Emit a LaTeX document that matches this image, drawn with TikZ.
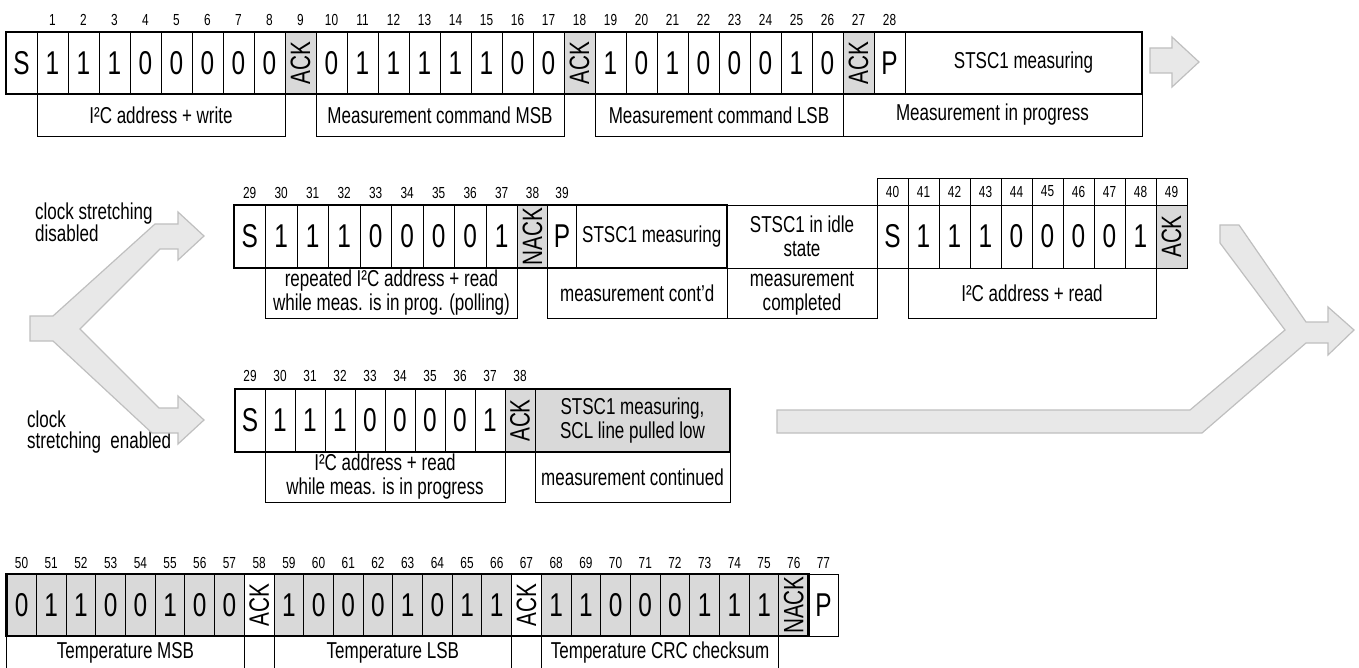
\documentclass[tikz,border=0pt]{standalone}
\usepackage{fontspec}
\setmainfont[FakeStretch=0.74]{Liberation Sans}
\newcommand\ACKtxt{\rotatebox{90}{\fontsize{28}{28}\selectfont ACK}}
\newcommand\NACKtxt{\rotatebox{90}{\fontsize{28}{28}\selectfont NACK}}
\begin{document}
\begin{tikzpicture}[x=1pt, y=-1pt,
  cell/.style={draw, line width=0.9pt, inner sep=0pt, outer sep=0pt, anchor=north west, minimum height=62pt, font=\fontsize{33}{33}\selectfont},
  wtxt/.style={align=center, font=\fontsize{23}{24}\selectfont},
  lab/.style={draw, line width=0.9pt, inner sep=0pt, outer sep=0pt, anchor=north west, align=center, font=\fontsize{23}{24}\selectfont},
  num/.style={inner sep=0pt, font=\fontsize{16}{16}\selectfont},
  txt/.style={inner sep=0pt, anchor=west, align=left, font=\fontsize{23}{21}\selectfont},
  rowframe/.style={line width=2.6pt},
  bigarrow/.style={draw=black!25, fill=black!9, line width=1.2pt}]

\useasboundingbox (0,0) rectangle (1359,668);

\node[cell, minimum width=31pt] (s1) at (6,32) {S};
\foreach \b/\f [count=\i] in {1/white,1/white,1/white,0/white,0/white,0/white,0/white,0/white,\ACKtxt/black!15,0/white,1/white,1/white,1/white,1/white,1/white,0/white,0/white,\ACKtxt/black!15,1/white,0/white,1/white,0/white,0/white,0/white,1/white,0/white,\ACKtxt/black!15,P/white}{
  \node[cell, minimum width=31pt, fill=\f] (a\i) at ({37+31*(\i-1)},32) {\b};
  \node[num] (na\i) at ({52.5+31*(\i-1)},20) {\i};
}
\node[cell, wtxt, minimum width=237pt] (m1) at (905,32) {STSC1 measuring};
\node[lab, minimum width=248pt, minimum height=42pt] (l1) at (37,94) {I²C address + write};
\node[lab, minimum width=248pt, minimum height=42pt] (l2) at (316,94) {Measurement command MSB};
\node[lab, minimum width=248pt, minimum height=42pt] (l3) at (595,94) {Measurement command LSB};
\node[lab, minimum width=299pt, minimum height=42pt] (l4) at (843,94) {Measurement in progress};
\draw[rowframe] (s1.north west) rectangle (m1.south east);
\draw[bigarrow] (1150,48) -- (1172,48) -- (1172,37) -- (1199,62) -- (1172,87) -- (1172,73) -- (1150,73) -- cycle;

\node[txt] (cd) at (35,222.5) {clock stretching\\disabled};
\node[txt] (ce) at (27,432.5) {clock\\stretching\ \ enabled};
\draw[bigarrow] (30,316) -- (53,316) -- (155,224) -- (178,224) -- (178,212) -- (204,236) -- (178,260) -- (178,249) -- (160,249) -- (80,329) -- (159,408) -- (178,408) -- (178,396) -- (204,420) -- (178,444) -- (178,433) -- (152,433) -- (53,341) -- (30,341) -- cycle;

\node[cell, minimum width=31.5pt, minimum height=63pt] (s2) at (234,205) {S};
\node[num] (n29) at (249.7,192.5) {29};
\foreach \b [count=\i, evaluate=\i as \k using int(\i+29)] in {1,1,1,0,0,0,0,1}{
  \node[cell, minimum width=31.5pt, minimum height=63pt] (c\i) at ({265.5+31.5*(\i-1)},205) {\b};
  \node[num] (nc\i) at ({281.2+31.5*(\i-1)},192.5) {\k};
}
\node[cell, minimum width=30pt, minimum height=63pt, fill=black!15] (k2) at (517.5,205) {\NACKtxt};
\node[num] (n38) at (532.5,192.5) {38};
\node[cell, minimum width=29pt, minimum height=63pt] (p2) at (547.5,205) {P};
\node[num] (n39) at (562,192.5) {39};
\node[cell, wtxt, minimum width=150.5pt, minimum height=63pt] (m2) at (576.5,205) {STSC1 measuring};
\node[cell, wtxt, minimum width=150pt, minimum height=63pt] (i2) at (727,205) {STSC1 in idle\\state};
\foreach \b/\f [count=\i, evaluate=\i as \k using int(\i+39)] in {S/white,1/white,1/white,1/white,0/white,0/white,0/white,0/white,1/white,\ACKtxt/black!15}{
  \node[cell, minimum width=31pt, minimum height=63pt, fill=\f] (d\i) at ({877+31*(\i-1)},205) {\b};
  \node[cell, num, minimum width=31pt, minimum height=27pt] (nd\i) at ({877+31*(\i-1)},178) {\k};
}
\node[lab, minimum width=252pt, minimum height=50pt] (l5) at (265.5,268) {repeated I²C address + read\\while meas. is in prog. (polling)};
\node[lab, minimum width=179.5pt, minimum height=50pt] (l6) at (547.5,268) {measurement cont'd};
\node[lab, minimum width=150pt, minimum height=50pt] (l7) at (727,268) {measurement\\completed};
\node[lab, minimum width=248pt, minimum height=50pt] (l8) at (908,268) {I²C address + read};
\draw[rowframe] (s2.north west) rectangle (m2.south east);
\draw[bigarrow] (1220,225) -- (1239,225) -- (1306,322) -- (1328,322) -- (1328,307) -- (1354,330) -- (1328,355) -- (1328,343) -- (1306,343) -- (1202,433) -- (777,433) -- (777,410) -- (1190,410) -- (1285,330) -- (1220,243) -- cycle;

\node[cell, minimum width=30pt, minimum height=63pt] (s3) at (235,389) {S};
\node[num] (n3) at (250,376) {29};
\foreach \b [count=\i, evaluate=\i as \k using int(\i+29)] in {1,1,1,0,0,0,0,1}{
  \node[cell, minimum width=30pt, minimum height=63pt] (e\i) at ({265+30*(\i-1)},389) {\b};
  \node[num] (ne\i) at ({280+30*(\i-1)},376) {\k};
}
\node[cell, minimum width=30pt, minimum height=63pt, fill=black!15] (k3) at (505,389) {\ACKtxt};
\node[num] (n38b) at (520,376) {38};
\node[cell, wtxt, minimum width=195pt, minimum height=63pt, fill=black!15] (m3) at (535,389) {STSC1 measuring,\\SCL line pulled low};
\node[lab, minimum width=240pt, minimum height=50pt] (l9) at (265,452) {I²C address + read\\while meas. is in progress};
\node[lab, minimum width=195pt, minimum height=50pt] (l10) at (535,452) {measurement continued};
\draw[rowframe] (s3.north west) rectangle (m3.south east);

\foreach \b/\f [count=\i, evaluate=\i as \k using int(\i+49)] in {0/black!15,1/black!15,1/black!15,0/black!15,0/black!15,1/black!15,0/black!15,0/black!15,\ACKtxt/white,1/black!15,0/black!15,0/black!15,0/black!15,1/black!15,0/black!15,1/black!15,1/black!15,\ACKtxt/white,1/black!15,1/black!15,0/black!15,0/black!15,0/black!15,1/black!15,1/black!15,1/black!15,\NACKtxt/black!15,P/white}{
  \node[cell, minimum width=29.7pt, fill=\f] (b\i) at ({6.7+29.7*(\i-1)},574) {\b};
  \node[num] (nb\i) at ({21.55+29.7*(\i-1)},563) {\k};
}
\node[lab, minimum width=237.6pt, minimum height=34pt] (l11) at (6.7,636) {Temperature MSB};
\node[lab, minimum width=237.6pt, minimum height=34pt] (l12) at (274,636) {Temperature LSB};
\node[lab, minimum width=237.6pt, minimum height=34pt] (l13) at (541.3,636) {Temperature CRC checksum};
\draw[rowframe] (b1.north west) rectangle (b27.south east);
\end{tikzpicture}
\end{document}
